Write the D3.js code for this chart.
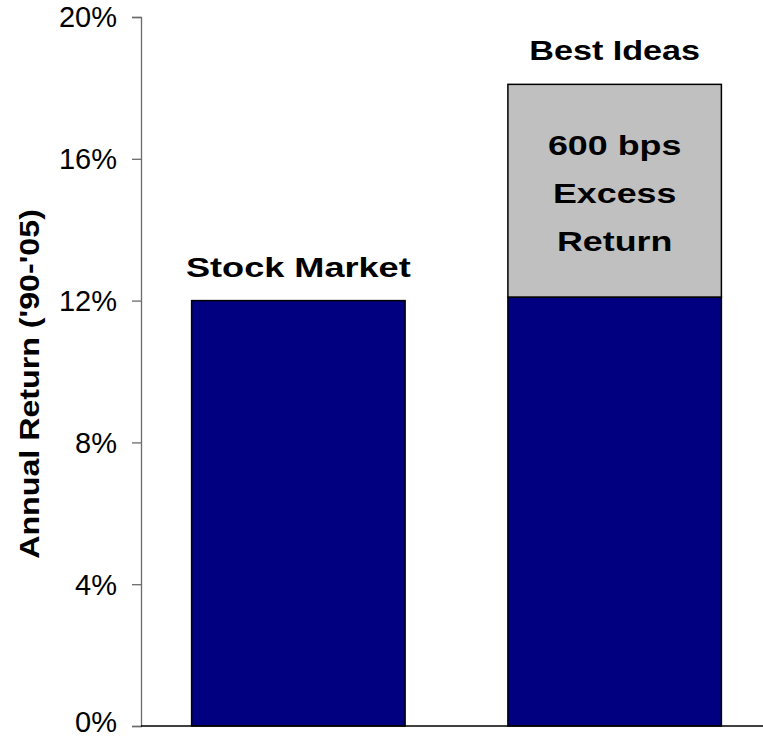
<!DOCTYPE html>
<html>
<head>
<meta charset="utf-8">
<script src="https://cdn.jsdelivr.net/npm/d3@7"></script>
<style>
  body { margin: 0; background: #fff; }
  svg { display: block; font-family: 'Liberation Sans', Arial, sans-serif; }
</style>
</head>
<body>
<svg id="viz"></svg>
<script>
const width = 763
const height = 740

// data
const categories = ['Stock Market', 'Best Ideas']
const baseReturns = [12.0, 12.1]
const excessReturns = [0, 6.0]
const yTicks = [0, 4, 8, 12, 16, 20]
const excessLabel = ['600 bps', 'Excess', 'Return']
const yTitle = "Annual Return ('90-'05)"

const svg = d3.select('#viz').attr('width', width).attr('height', height)

const y = d3.scaleLinear().domain([0, 20]).range([726, 17])
const x = d3
  .scaleBand()
  .domain(categories)
  .range([141, 772])
  .paddingInner(0.325)
  .paddingOuter(0.16)

// y axis
const yAxis = svg
  .append('g')
  .attr('transform', 'translate(141,0)')
  .call(
    d3
      .axisLeft(y)
      .tickValues(yTicks)
      .tickSize(9)
      .tickPadding(15)
      .tickFormat((d) => d + '%')
  )
yAxis.select('.domain').attr('stroke', '#6b6b6b').attr('stroke-width', 1.3)
yAxis.selectAll('.tick line').attr('stroke', '#6b6b6b').attr('stroke-width', 1.3)
yAxis
  .selectAll('.tick text')
  .attr('font-size', 29)
  .attr('fill', '#000')
  .attr('font-family', "'Liberation Sans', Arial, sans-serif")
  // keep the bottom label inside the page
  .attr('dy', (d) => (d === 0 ? '0.2em' : '0.34em'))

// bars
const rows = categories.map((c, i) => ({
  cat: c,
  base: baseReturns[i],
  excess: excessReturns[i],
}))

svg
  .append('g')
  .selectAll('rect')
  .data(rows)
  .join('rect')
  .attr('x', (d) => x(d.cat))
  .attr('width', x.bandwidth())
  .attr('y', (d) => y(d.base))
  .attr('height', (d) => y(0) - y(d.base))
  .attr('fill', '#000080')
  .attr('stroke', '#000')
  .attr('stroke-width', 1.5)

svg
  .append('g')
  .selectAll('rect')
  .data(rows.filter((d) => d.excess > 0))
  .join('rect')
  .attr('x', (d) => x(d.cat))
  .attr('width', x.bandwidth())
  .attr('y', (d) => y(d.base + d.excess))
  .attr('height', (d) => y(d.base) - y(d.base + d.excess))
  .attr('fill', '#c0c0c0')
  .attr('stroke', '#000')
  .attr('stroke-width', 1.5)

// baseline
svg
  .append('line')
  .attr('x1', 141)
  .attr('x2', width)
  .attr('y1', y(0))
  .attr('y2', y(0))
  .attr('stroke', '#000')
  .attr('stroke-width', 1.5)

// category labels above each bar
svg
  .append('g')
  .selectAll('text')
  .data(rows)
  .join('text')
  .attr(
    'transform',
    (d, i) =>
      `translate(${x(d.cat) + x.bandwidth() / 2}, ${
        y(d.base + d.excess) - 24
      }) scale(${i === 0 ? 1.29 : 1.22},1)`
  )
  .attr('text-anchor', 'middle')
  .attr('font-size', 28)
  .attr('font-weight', 'bold')
  .text((d) => d.cat)

// label inside the excess segment
const best = rows[1]
svg
  .append('g')
  .selectAll('text')
  .data(excessLabel)
  .join('text')
  .attr(
    'transform',
    (d, i) =>
      `translate(${x(best.cat) + x.bandwidth() / 2}, ${
        y(best.base + best.excess) + 71 + i * 48
      }) scale(1.28,1)`
  )
  .attr('text-anchor', 'middle')
  .attr('font-size', 28)
  .attr('font-weight', 'bold')
  .text((d) => d)

// y title
svg
  .append('text')
  .attr('transform', 'translate(39,384) rotate(-90) scale(1.15,1)')
  .attr('text-anchor', 'middle')
  .attr('font-size', 28)
  .attr('font-weight', 'bold')
  .text(yTitle)
</script>
</body>
</html>
